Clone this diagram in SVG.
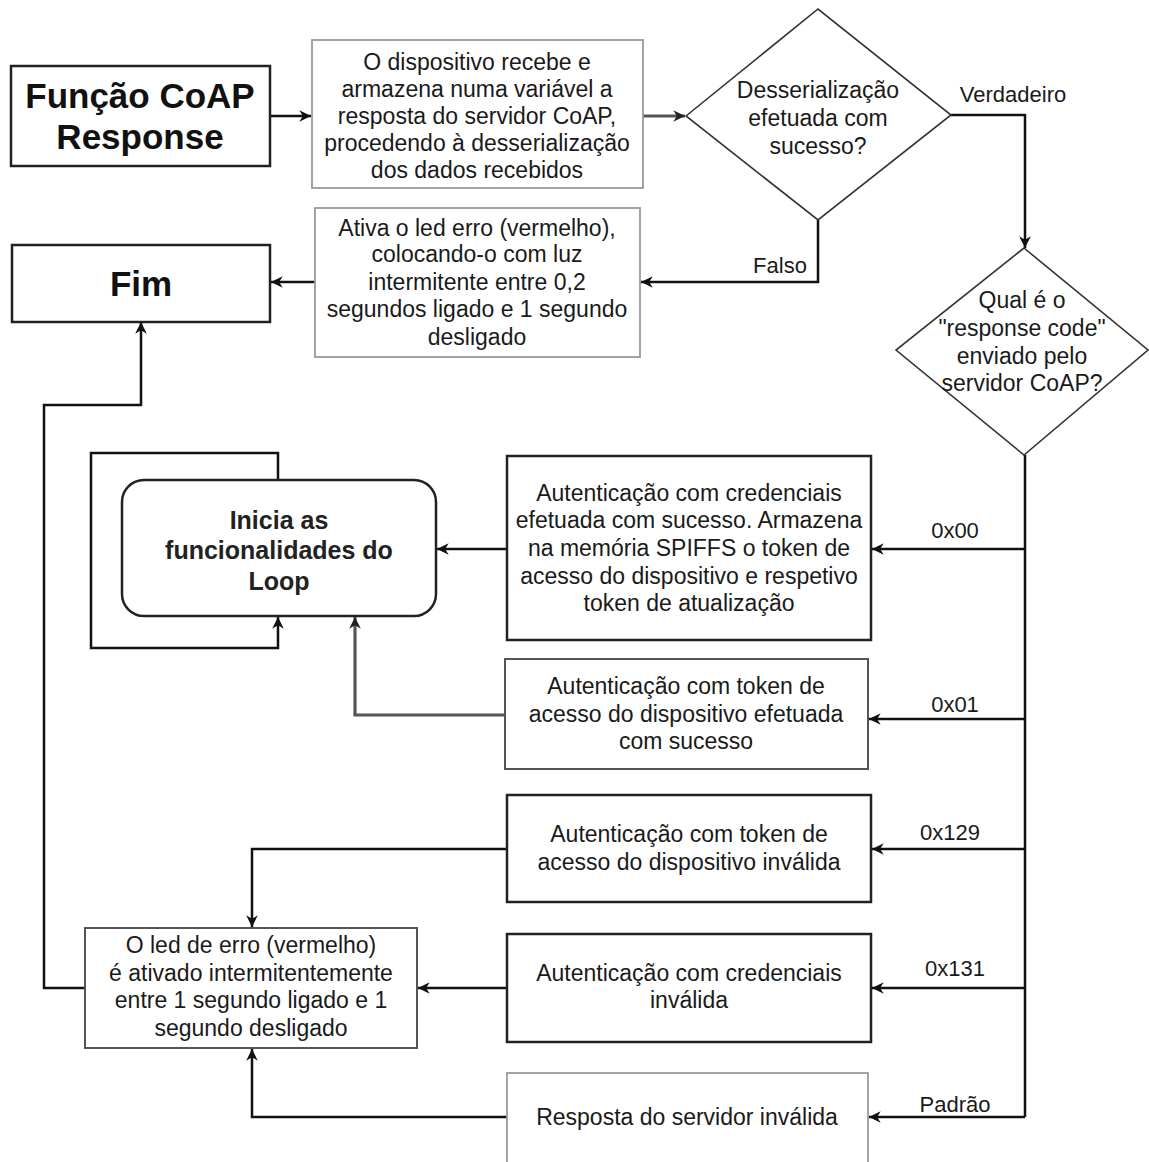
<svg xmlns="http://www.w3.org/2000/svg" width="1149" height="1162" viewBox="0 0 1149 1162">
  <defs>
    <marker id="arrow" markerUnits="userSpaceOnUse" markerWidth="14" markerHeight="14" viewBox="0 0 12 12" refX="11" refY="6" orient="auto">
      <path d="M1,1 L11,6 L1,11 L4,6 z" fill="#111"/>
    </marker>
    <marker id="arrowGray" markerUnits="userSpaceOnUse" markerWidth="14" markerHeight="14" viewBox="0 0 12 12" refX="11" refY="6" orient="auto">
      <path d="M1,1 L11,6 L1,11 L4,6 z" fill="#222"/>
    </marker>
  </defs>
  <style>
    text { font-family: "Liberation Sans", Arial, sans-serif; fill: #1a1a1a; text-anchor: middle; }
    .t { font-size: 23px; }
    .lbl { font-size: 22px; }
    .title { font-size: 35px; font-weight: bold; fill: #111; }
    .bold { font-size: 25px; font-weight: bold; fill: #222; }
    .box { fill: #fff; stroke: #222; stroke-width: 2.5; }
    .soft { fill: #fff; stroke: #9a9a9a; stroke-width: 1.8; }
    .mid { fill: #fff; stroke: #555; stroke-width: 2; }
    .dia { fill: #fff; stroke: #333; stroke-width: 1.6; }
    .edge { fill: none; stroke: #111; stroke-width: 2.5; marker-end: url(#arrow); }
    .edge2 { fill: none; stroke: #555; stroke-width: 3.2; marker-end: url(#arrowGray); }
    .line { fill: none; stroke: #111; stroke-width: 2.5; }
  </style>
  <rect width="1149" height="1162" fill="#fff"/>

  <!-- connectors -->
  <g id="connectors">
    <path class="edge" d="M270,116 L311,116"/>
    <path class="edge2" d="M643,116 L685,116"/>
    <path class="edge" d="M951,115 L1025,115 L1025,248"/>
    <path class="edge" d="M818,220 L818,282 L641,282"/>
    <path class="edge" d="M315,282 L271,282"/>
    <path class="edge" d="M85,988 L44,988 L44,405 L141,405 L141,322"/>
    <path class="edge" d="M278,480 L278,453 L91,453 L91,648 L278,648 L278,617"/>
    <path class="edge2" d="M505,715 L355,715 L355,617"/>
    <path class="line" d="M1025,455 L1025,1117"/>
    <path class="edge" d="M1025,549 L872,549"/>
    <path class="edge" d="M1025,719 L869,719"/>
    <path class="edge" d="M1025,849 L872,849"/>
    <path class="edge" d="M1025,988 L872,988"/>
    <path class="edge" d="M1025,1117 L869,1117"/>
    <path class="edge" d="M507,549 L437,549"/>
    <path class="edge" d="M507,849 L252,849 L252,927"/>
    <path class="edge" d="M507,988 L418,988"/>
    <path class="edge" d="M507,1117 L252,1117 L252,1049"/>
    <text class="lbl" x="1013" y="102">Verdadeiro</text>
    <text class="lbl" x="780" y="273">Falso</text>
    <text class="lbl" x="955" y="538">0x00</text>
    <text class="lbl" x="955" y="712">0x01</text>
    <text class="lbl" x="950" y="840">0x129</text>
    <text class="lbl" x="955" y="976">0x131</text>
    <text class="lbl" x="955" y="1112">Padrão</text>
  </g>

  <!-- nodes -->
  <g id="start">
    <rect class="box" x="11" y="66" width="259" height="100" stroke-width="3"/>
    <text class="title" x="140" y="108">Função CoAP</text>
    <text class="title" x="140" y="149">Response</text>
  </g>

  <g id="receive">
    <rect class="soft" x="312" y="40" width="331" height="148"/>
    <text class="t" x="477" y="70">O dispositivo recebe e</text>
    <text class="t" x="477" y="97">armazena numa variável a</text>
    <text class="t" x="477" y="124">resposta do servidor CoAP,</text>
    <text class="t" x="477" y="151">procedendo à desserialização</text>
    <text class="t" x="477" y="178">dos dados recebidos</text>
  </g>

  <g id="check-deserialize">
    <polygon class="dia" points="686,116 818,9 951,115 818,220"/>
    <text class="t" x="818" y="98">Desserialização</text>
    <text class="t" x="818" y="126">efetuada com</text>
    <text class="t" x="818" y="154">sucesso?</text>
  </g>

  <g id="error-deserialize">
    <rect class="soft" x="315" y="208" width="325" height="149"/>
    <text class="t" x="477" y="236">Ativa o led erro (vermelho),</text>
    <text class="t" x="477" y="262">colocando-o com luz</text>
    <text class="t" x="477" y="290">intermitente entre 0,2</text>
    <text class="t" x="477" y="317">segundos ligado e 1 segundo</text>
    <text class="t" x="477" y="345">desligado</text>
  </g>

  <g id="end">
    <rect class="box" x="12" y="245" width="258" height="77"/>
    <text class="title" x="141" y="296">Fim</text>
  </g>

  <g id="response-code">
    <polygon class="dia" points="1024,248 1148,350 1024,455 896,350"/>
    <text class="t" x="1022" y="308">Qual é o</text>
    <text class="t" x="1022" y="336">"response code"</text>
    <text class="t" x="1022" y="364">enviado pelo</text>
    <text class="t" x="1022" y="391">servidor CoAP?</text>
  </g>

  <g id="loop">
    <rect class="box" x="122" y="480" width="314" height="136" rx="22"/>
    <text class="bold" x="279" y="529">Inicia as</text>
    <text class="bold" x="279" y="559">funcionalidades do</text>
    <text class="bold" x="279" y="590">Loop</text>
  </g>

  <g id="auth-credentials-ok">
    <rect class="box" x="507" y="456" width="364" height="184"/>
    <text class="t" x="689" y="501">Autenticação com credenciais</text>
    <text class="t" x="689" y="528">efetuada com sucesso. Armazena</text>
    <text class="t" x="689" y="556">na memória SPIFFS o token de</text>
    <text class="t" x="689" y="584">acesso do dispositivo e respetivo</text>
    <text class="t" x="689" y="611">token de atualização</text>
  </g>

  <g id="auth-token-ok">
    <rect class="mid" x="505" y="659" width="363" height="110"/>
    <text class="t" x="686" y="694">Autenticação com token de</text>
    <text class="t" x="686" y="722">acesso do dispositivo efetuada</text>
    <text class="t" x="686" y="749">com sucesso</text>
  </g>

  <g id="auth-token-invalid">
    <rect class="box" x="507" y="795" width="364" height="107"/>
    <text class="t" x="689" y="842">Autenticação com token de</text>
    <text class="t" x="689" y="870">acesso do dispositivo inválida</text>
  </g>

  <g id="auth-credentials-invalid">
    <rect class="box" x="507" y="934" width="364" height="108"/>
    <text class="t" x="689" y="981">Autenticação com credenciais</text>
    <text class="t" x="689" y="1008">inválida</text>
  </g>

  <g id="invalid-response">
    <rect class="soft" x="507" y="1073" width="361" height="100"/>
    <text class="t" x="687" y="1125">Resposta do servidor inválida</text>
  </g>

  <g id="error-led">
    <rect class="mid" x="85" y="928" width="332" height="120"/>
    <text class="t" x="251" y="953">O led de erro (vermelho)</text>
    <text class="t" x="251" y="981">é ativado intermitentemente</text>
    <text class="t" x="251" y="1008">entre 1 segundo ligado e 1</text>
    <text class="t" x="251" y="1036">segundo desligado</text>
  </g>
</svg>
